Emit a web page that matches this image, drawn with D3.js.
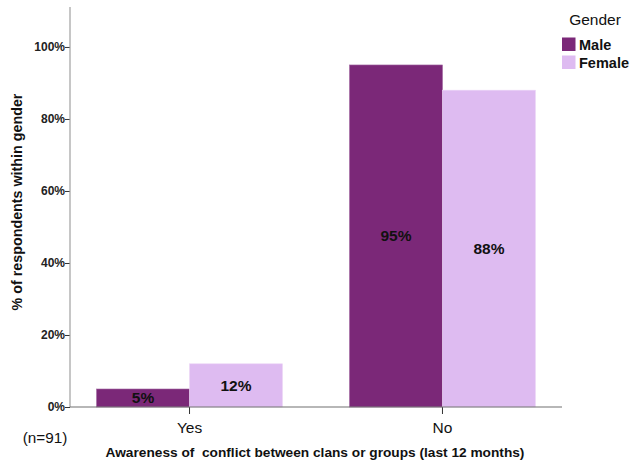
<!DOCTYPE html>
<html><head><meta charset="utf-8">
<script src="https://cdn.jsdelivr.net/npm/d3@7"></script>
<style>body{margin:0;background:#fff}svg{display:block;font-family:"Liberation Sans",Arial,sans-serif}</style>
</head><body><svg id="c" width="630" height="464"></svg>
<script>
const categories = ["Yes", "No"];
const genders = ["Male", "Female"];
const maleValues = [5, 95];
const femaleValues = [12, 88];
const maleLabels = ["5%", "95%"];
const femaleLabels = ["12%", "88%"];
const yTicks = [0, 20, 40, 60, 80, 100];
const colors = {Male: "#7b2878", Female: "#debbf1"};

(function () {
const svg = d3.select("#c");
const pLeft = 70, pRight = 562, pTop = 7, pBottom = 407;
const y = d3.scaleLinear().domain([0, 111.1]).range([pBottom, pTop]);
const x0 = d3.scaleBand().domain(categories).range([pLeft, pRight]).paddingInner(0.265).paddingOuter(0.105);
const x1 = d3.scaleBand().domain(genders).range([0, x0.bandwidth()]);

const data = [];
categories.forEach((c, i) => {
  data.push({cat: c, g: "Male", v: maleValues[i], l: maleLabels[i]});
  data.push({cat: c, g: "Female", v: femaleValues[i], l: femaleLabels[i]});
});

svg.selectAll("rect.bar").data(data).join("rect").attr("class", "bar")
  .attr("x", d => x0(d.cat) + x1(d.g))
  .attr("width", x1.bandwidth())
  .attr("y", d => y(d.v))
  .attr("height", d => y(0) - y(d.v))
  .attr("fill", d => colors[d.g])
  .attr("stroke", d => d.g === "Male" ? "#a066a0" : "#ecd6f6")
  .attr("stroke-width", 0.6);

svg.selectAll("text.val").data(data).join("text").attr("class", "val")
  .attr("x", d => x0(d.cat) + x1(d.g) + x1.bandwidth() / 2)
  .attr("y", d => (y(d.v) + y(0)) / 2 + 5.5)
  .attr("text-anchor", "middle")
  .attr("font-size", 15.5).attr("font-weight", "bold").attr("fill", "#111")
  .text(d => d.l);

// y axis
const yAxis = d3.axisLeft(y).tickValues(yTicks).tickSize(5).tickFormat(d => d + "%");
const gy = svg.append("g").attr("transform", `translate(${pLeft},0)`).call(yAxis);
gy.select(".domain").remove();
gy.selectAll(".tick line").attr("stroke", "#333");
gy.selectAll(".tick text").attr("font-size", 12).attr("font-weight", "bold").attr("fill", "#222").attr("x", -5)
  .attr("font-family", "Liberation Sans, Arial, sans-serif");
svg.append("line").attr("x1", pLeft).attr("x2", pLeft).attr("y1", pTop).attr("y2", pBottom).attr("stroke", "#a0a0a0").attr("stroke-width", 1.2);

// x axis
const xAxis = d3.axisBottom(x0).tickSize(7).tickSizeOuter(0);
const gx = svg.append("g").attr("transform", `translate(0,${pBottom})`).call(xAxis);
gx.select(".domain").remove();
gx.selectAll(".tick line").attr("stroke", "#333");
gx.selectAll(".tick text").attr("font-size", 15.5).attr("fill", "#111").attr("dy", "1.05em")
  .attr("font-family", "Liberation Sans, Arial, sans-serif");
svg.append("line").attr("x1", pLeft).attr("x2", pRight).attr("y1", pBottom).attr("y2", pBottom).attr("stroke", "#707070").attr("stroke-width", 1.2);

// titles
svg.append("text").attr("transform", "translate(22,202) rotate(-90)")
  .attr("text-anchor", "middle").attr("font-size", 14.3).attr("font-weight", "bold").attr("fill", "#111")
  .text("% of respondents within gender");
svg.append("text").attr("x", 315).attr("y", 457).attr("text-anchor", "middle")
  .attr("font-size", 13.7).attr("font-weight", "bold").attr("fill", "#111")
  .text("Awareness of\u00a0 conflict between clans or groups (last 12 months)");
svg.append("text").attr("x", 45).attr("y", 443).attr("text-anchor", "middle")
  .attr("font-size", 15.3).attr("fill", "#111").text("(n=91)");

// legend
svg.append("text").attr("x", 595).attr("y", 25).attr("text-anchor", "middle")
  .attr("font-size", 15.5).attr("fill", "#111").text("Gender");
const lg = svg.selectAll("g.leg").data(genders).join("g").attr("class", "leg")
  .attr("transform", (d, i) => `translate(562,${37.5 + i * 18})`);
lg.append("rect").attr("width", 13.5).attr("height", 13.5).attr("fill", d => colors[d]);
lg.append("text").attr("x", 17).attr("y", 12.5).attr("font-size", 14.5).attr("font-weight", "bold").attr("fill", "#111").text(d => d);
})();
</script></body></html>
